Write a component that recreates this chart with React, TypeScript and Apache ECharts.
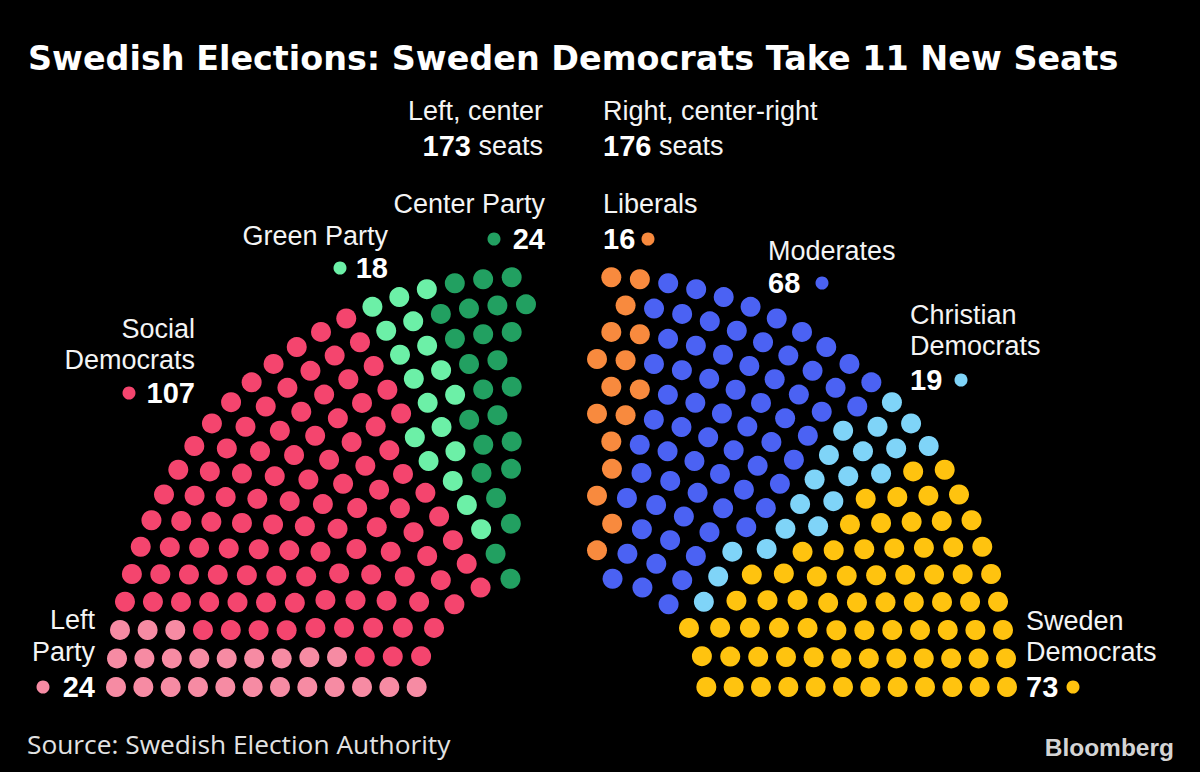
import React, { useEffect, useRef } from "react";
import * as echarts from "echarts";

// ---------- data ----------
const titleText = "Swedish Elections: Sweden Democrats Take 11 New Seats";
const sourceText = "Source: Swedish Election Authority";
const blocNames = ["Left, center", "Right, center-right"];

const leftParties = ["Left\nParty", "Social\nDemocrats", "Green Party", "Center Party"];
const leftSeats = [24, 107, 18, 24];
const rightParties = ["Liberals", "Moderates", "Christian\nDemocrats", "Sweden\nDemocrats"];
const rightSeats = [16, 68, 19, 73];

// ---------- styles / layout ----------
const leftColors = ["#F68BA3", "#F4456E", "#6CF0A7", "#22A061"];
const rightColors = ["#F88A3E", "#4B62F3", "#7FD4F8", "#FFC30F"];
const RING_COUNT = 12;
const INNER_RING = 4;
const OUTER_RING = INNER_RING + RING_COUNT - 1;

const leftLabelPos = [
  { x: 95, nameY: [620, 652], numY: 687, dotX: 43 },
  { x: 195, nameY: [329, 360], numY: 393, dotX: 129 },
  { x: 388, nameY: [236], numY: 268, dotX: 340 },
  { x: 545, nameY: [204], numY: 239, dotX: 494 },
];
const rightLabelPos = [
  { x: 603, nameY: [204], numY: 239, dotX: 648 },
  { x: 768, nameY: [251], numY: 283, dotX: 822 },
  { x: 910, nameY: [315, 346], numY: 380, dotX: 961 },
  { x: 1026, nameY: [621, 652], numY: 687, dotX: 1073 },
];

const LABEL_FONT = '"Liberation Sans", Arial, sans-serif';
const TEXT_COLOR = "#f4f4f4";
const NAME_SIZE = 27;
const NUM_SIZE = 29;

const sum = (a: number[]) => a.reduce((s, v) => s + v, 0);

// Standard hemicycle: seats per ring proportional to radius, seats ordered by angle
function hemicycle(total: number) {
  const radii = Array.from({ length: RING_COUNT }, (_, i) => INNER_RING + i);
  const sumR = sum(radii);
  const raw = radii.map((r) => (total * r) / sumR);
  const counts = raw.map((v) => Math.floor(v));
  const rem = total - sum(counts);
  const order = raw
    .map((v, i) => [v - Math.floor(v), i])
    .sort((a, b) => b[0] - a[0]);
  for (let k = 0; k < rem; k++) counts[order[k][1]]++;
  const seats: { r: number; a: number }[] = [];
  radii.forEach((r, i) => {
    const n = counts[i];
    for (let j = 0; j < n; j++) seats.push({ r, a: 180 - (180 * j) / (n - 1) });
  });
  seats.sort((p, q) => (Math.abs(q.a - p.a) > 1e-9 ? q.a - p.a : q.r - p.r));
  return seats;
}

function buildOption() {
  const leftTotal = sum(leftSeats);
  const rightTotal = sum(rightSeats);
  const seats = hemicycle(leftTotal + rightTotal);
  const leftSeatPos = seats.slice(0, leftTotal);
  const rightSeatPos = seats.slice(leftTotal);

  const series: any[] = [];
  const addSeries = (
    names: string[],
    counts: number[],
    colors: string[],
    pos: { r: number; a: number }[],
    polarIndex: number
  ) => {
    let start = 0;
    names.forEach((name, i) => {
      const data = pos.slice(start, start + counts[i]).map((s) => [s.r, s.a]);
      start += counts[i];
      series.push({
        type: "scatter",
        name: name.replace("\n", " "),
        coordinateSystem: "polar",
        polarIndex,
        symbol: "circle",
        symbolSize: 20,
        clip: false,
        silent: true,
        itemStyle: { color: colors[i], opacity: 1 },
        data,
      });
    });
  };
  addSeries(leftParties, leftSeats, leftColors, leftSeatPos, 0);
  addSeries(rightParties, rightSeats, rightColors, rightSeatPos, 1);

  const graphic: any[] = [];
  graphic.push({
    type: "text",
    x: 28,
    y: 58,
    style: {
      text: titleText,
      fill: "#ffffff",
      fontFamily: '"DejaVu Sans", Verdana, sans-serif',
      fontWeight: "bold",
      fontSize: 33.4,
      verticalAlign: "middle",
    },
  });
  graphic.push({
    type: "text",
    x: 27,
    y: 744,
    style: {
      text: sourceText,
      fill: "#e2e2e2",
      fontFamily: '"Open Sans", sans-serif',
      fontSize: 26.3,
      verticalAlign: "middle",
    },
  });
  graphic.push({
    type: "text",
    x: 1174,
    y: 747,
    style: {
      text: "Bloomberg",
      fill: "#d4d4d4",
      fontFamily: LABEL_FONT,
      fontWeight: "bold",
      fontSize: 24.5,
      align: "right",
      verticalAlign: "middle",
    },
  });

  // bloc headers
  const blocTotals = [leftTotal, rightTotal];
  const blocX = [543, 603];
  const blocAlign = ["right", "left"];
  blocNames.forEach((nm, i) => {
    graphic.push({
      type: "text",
      x: blocX[i],
      y: 111,
      style: {
        text: nm,
        fill: TEXT_COLOR,
        fontFamily: LABEL_FONT,
        fontSize: NAME_SIZE,
        align: blocAlign[i],
        verticalAlign: "middle",
      },
    });
    graphic.push({
      type: "text",
      x: blocX[i],
      y: 146,
      style: {
        text: `{b|${blocTotals[i]}}{n| seats}`,
        align: blocAlign[i],
        verticalAlign: "middle",
        rich: {
          b: { fill: "#ffffff", fontFamily: LABEL_FONT, fontWeight: "bold", fontSize: NUM_SIZE },
          n: { fill: TEXT_COLOR, fontFamily: LABEL_FONT, fontSize: NAME_SIZE },
        },
      },
    });
  });

  const addLabels = (
    names: string[],
    counts: number[],
    colors: string[],
    posList: typeof leftLabelPos,
    align: "left" | "right"
  ) => {
    names.forEach((name, i) => {
      const p = posList[i];
      const lines = name.split("\n");
      lines.forEach((ln, k) => {
        graphic.push({
          type: "text",
          x: p.x,
          y: p.nameY[k],
          style: {
            text: ln,
            fill: TEXT_COLOR,
            fontFamily: LABEL_FONT,
            fontSize: NAME_SIZE,
            align,
            verticalAlign: "middle",
          },
        });
      });
      graphic.push({
        type: "text",
        x: p.x,
        y: p.numY,
        style: {
          text: String(counts[i]),
          fill: "#ffffff",
          fontFamily: LABEL_FONT,
          fontWeight: "bold",
          fontSize: NUM_SIZE,
          align,
          verticalAlign: "middle",
        },
      });
      graphic.push({
        type: "circle",
        shape: { cx: p.dotX, cy: p.numY, r: 6.5 },
        style: { fill: colors[i] },
      });
    });
  };
  addLabels(leftParties, leftSeats, leftColors, leftLabelPos, "right");
  addLabels(rightParties, rightSeats, rightColors, rightLabelPos, "left");

  const hiddenAxis = {
    show: false,
    axisLine: { show: false },
    axisTick: { show: false },
    axisLabel: { show: false },
    splitLine: { show: false },
    splitArea: { show: false },
  };

  return {
    backgroundColor: "#000000",
    animation: false,
    polar: [
      { center: [526, 687], radius: 410 },
      { center: [597, 687], radius: 410 },
    ],
    angleAxis: [0, 1].map((i) => ({
      polarIndex: i,
      type: "value",
      min: 0,
      max: 360,
      startAngle: 0,
      clockwise: false,
      ...hiddenAxis,
    })),
    radiusAxis: [0, 1].map((i) => ({
      polarIndex: i,
      type: "value",
      min: 0,
      max: OUTER_RING,
      ...hiddenAxis,
    })),
    series,
    graphic,
  };
}

export default function App() {
  const ref = useRef<HTMLDivElement>(null);
  useEffect(() => {
    if (!ref.current) return;
    const chart = echarts.init(ref.current, undefined, { renderer: "svg" });
    chart.setOption(buildOption() as any);
    return () => chart.dispose();
  }, []);
  return (
    <div
      ref={ref}
      style={{ position: "fixed", left: 0, top: 0, width: 1200, height: 772, background: "#000" }}
    />
  );
}
